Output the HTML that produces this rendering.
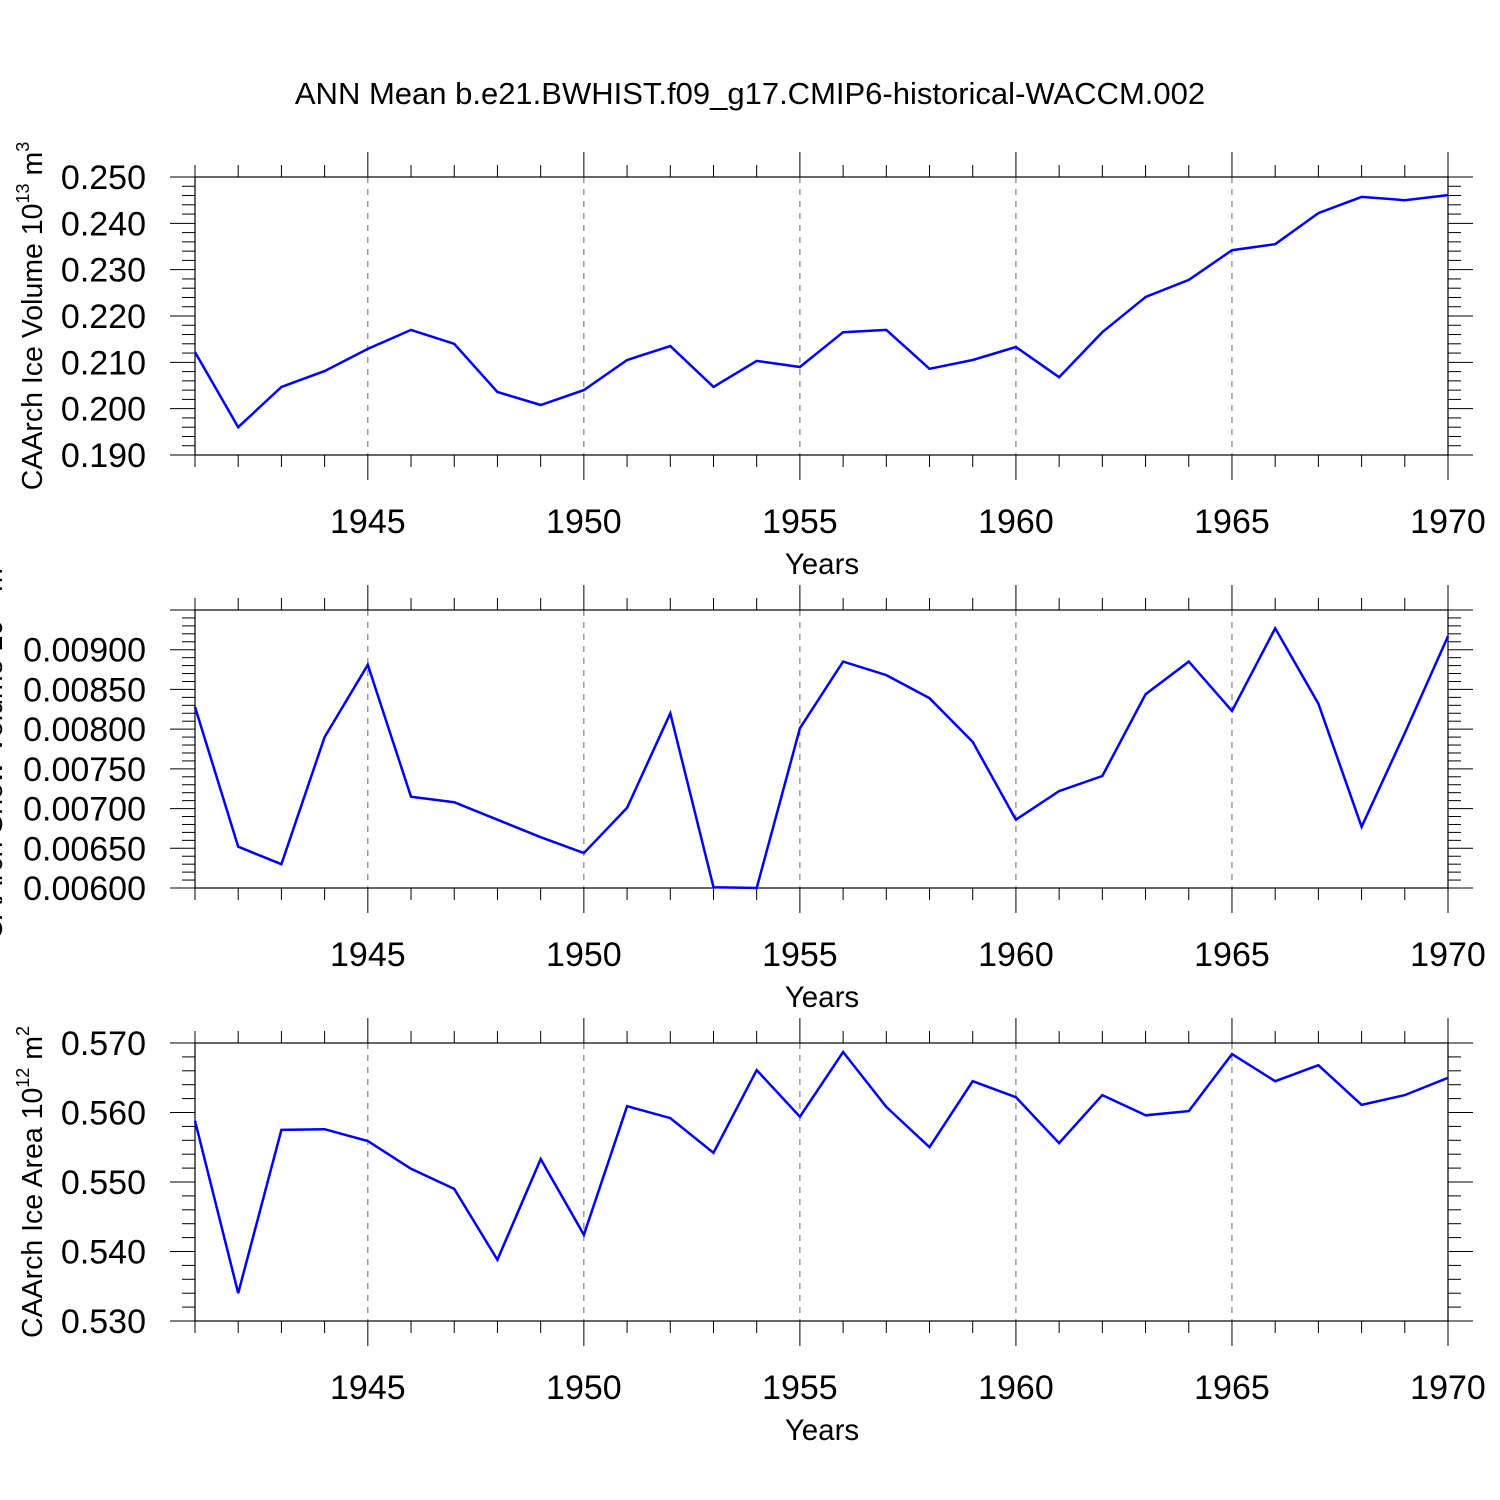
<!DOCTYPE html>
<html><head><meta charset="utf-8"><style>
html,body{margin:0;padding:0;background:#fff;width:1500px;height:1500px;overflow:hidden}
svg{display:block;font-family:"Liberation Sans",sans-serif}
</style></head><body>
<svg id="chart" width="1500" height="1500" xmlns="http://www.w3.org/2000/svg">
<text x="750" y="104" font-size="31" text-anchor="middle">ANN Mean b.e21.BWHIST.f09_g17.CMIP6-historical-WACCM.002</text>
</svg>
<script>
const years = [1941,1942,1943,1944,1945,1946,1947,1948,1949,1950,1951,1952,1953,1954,1955,1956,1957,1958,1959,1960,1961,1962,1963,1964,1965,1966,1967,1968,1969,1970];
const iceVolume = [0.2122,0.1960,0.2047,0.2081,0.2129,0.2170,0.2140,0.2036,0.2008,0.2040,0.2105,0.2135,0.2047,0.2103,0.2090,0.2165,0.2170,0.2086,0.2105,0.2133,0.2068,0.2165,0.2241,0.2278,0.2342,0.2355,0.2422,0.2457,0.2450,0.2461];
const snowVolume = [0.00828,0.00652,0.00630,0.00790,0.00881,0.00715,0.00708,0.00686,0.00664,0.00644,0.00701,0.00820,0.00601,0.00600,0.00801,0.00885,0.00868,0.00839,0.00784,0.00686,0.00722,0.00741,0.00844,0.00885,0.00823,0.00927,0.00832,0.00677,0.00795,0.00917];
const iceArea = [0.5588,0.5340,0.5575,0.5576,0.5559,0.5519,0.5490,0.5388,0.5533,0.5424,0.5609,0.5592,0.5542,0.5661,0.5594,0.5687,0.5608,0.5550,0.5645,0.5622,0.5556,0.5625,0.5596,0.5602,0.5684,0.5645,0.5668,0.5611,0.5625,0.5650];
const xTickLabels = [1945,1950,1955,1960,1965,1970];
const volTicks = [0.190,0.200,0.210,0.220,0.230,0.240,0.250];
const snowTicks = [0.006,0.0065,0.007,0.0075,0.008,0.0085,0.009];
const areaTicks = [0.530,0.540,0.550,0.560,0.570];

const NS="http://www.w3.org/2000/svg";
const svg=document.getElementById('chart');
function mk(tag,attrs,parent){const e=document.createElementNS(NS,tag);for(const k in attrs)e.setAttribute(k,attrs[k]);(parent||svg).appendChild(e);return e;}
const X0=195,X1=1448;
function xs(yr){return X0+(yr-1941)*(X1-X0)/29;}

function panel(cfg){
  const g=mk('g',{});
  
  
  const top=cfg.top,bot=cfg.top+278;
  const ys=v=>bot-(v-cfg.min)*(bot-top)/(cfg.max-cfg.min);
  xTickLabels.forEach(yr=>{
    if(yr===1970)return;
    const l=mk('line',{x1:xs(yr),x2:xs(yr),y1:top,y2:bot,stroke:'#666','stroke-width':1,'stroke-dasharray':'6,6'},g);
    
    
  });
  const fr=mk('rect',{x:X0,y:top,width:X1-X0,height:bot-top,fill:'none',stroke:'#000','stroke-width':1.2},g);
  
  
  for(let yr=1941;yr<=1970;yr++){
    const maj=yr%5===0, L=maj?25:12, x=xs(yr);
    mk('line',{x1:x,x2:x,y1:top,y2:top-L,stroke:'#000','stroke-width':1},g);
    mk('line',{x1:x,x2:x,y1:bot,y2:bot+L,stroke:'#000','stroke-width':1},g);
  }
  xTickLabels.forEach(yr=>{
    const t=mk('text',{x:xs(yr),y:bot+78,'font-size':34,'text-anchor':'middle'},g);
    t.textContent=yr;
    
    
  });
  const xt=mk('text',{x:822,y:bot+119,'font-size':29.5,'text-anchor':'middle'},g);
  xt.textContent='Years';
  
  
  const step=cfg.minor;
  const n=Math.round((cfg.max-cfg.min)/step);
  for(let i=0;i<=n;i++){
    const v=cfg.min+i*step, y=ys(v);
    const maj=i%cfg.per===0, L=maj?25:13;
    mk('line',{x1:X0,x2:X0-L,y1:y,y2:y,stroke:'#000','stroke-width':1},g);
    mk('line',{x1:X1,x2:X1+L,y1:y,y2:y,stroke:'#000','stroke-width':1},g);
  }
  cfg.ticks.forEach(v=>{
    const t=mk('text',{x:146,y:ys(v)+12,'font-size':34,'text-anchor':'end'},g);
    t.textContent=v.toFixed(cfg.dec);
    
    
  });
  const yt=mk('text',{transform:`translate(${cfg.tx},${(top+bot)/2}) rotate(-90)`,'font-size':28.5,'text-anchor':'middle'},g);
  yt.innerHTML=cfg.title;
  
  
  const pts=years.map((yr,i)=>xs(yr).toFixed(1)+','+ys(cfg.data[i]).toFixed(1)).join(' ');
  const pl=mk('polyline',{points:pts,fill:'none',stroke:'#0000ff','stroke-width':2.5,'stroke-linejoin':'miter'},g);
  
  
}
panel({name:'ice-volume-panel',top:177,min:0.190,max:0.250,minor:0.002,per:5,ticks:volTicks,dec:3,data:iceVolume,tx:42,
  title:'CAArch Ice Volume 10<tspan font-size="18" dy="-13">13</tspan><tspan dy="13"> m</tspan><tspan font-size="18" dy="-13">3</tspan>'});
panel({name:'snow-volume-panel',top:610,min:0.006,max:0.0095,minor:0.0001,per:5,ticks:snowTicks,dec:5,data:snowVolume,tx:2,
  title:'CAArch Snow Volume 10<tspan font-size="18" dy="-13">13</tspan><tspan dy="13"> m</tspan><tspan font-size="18" dy="-13">3</tspan>'});
panel({name:'ice-area-panel',top:1043,min:0.530,max:0.570,minor:0.002,per:5,ticks:areaTicks,dec:3,data:iceArea,tx:42,
  title:'CAArch Ice Area 10<tspan font-size="18" dy="-13">12</tspan><tspan dy="13"> m</tspan><tspan font-size="18" dy="-13">2</tspan>'});
</script>
</body></html>
